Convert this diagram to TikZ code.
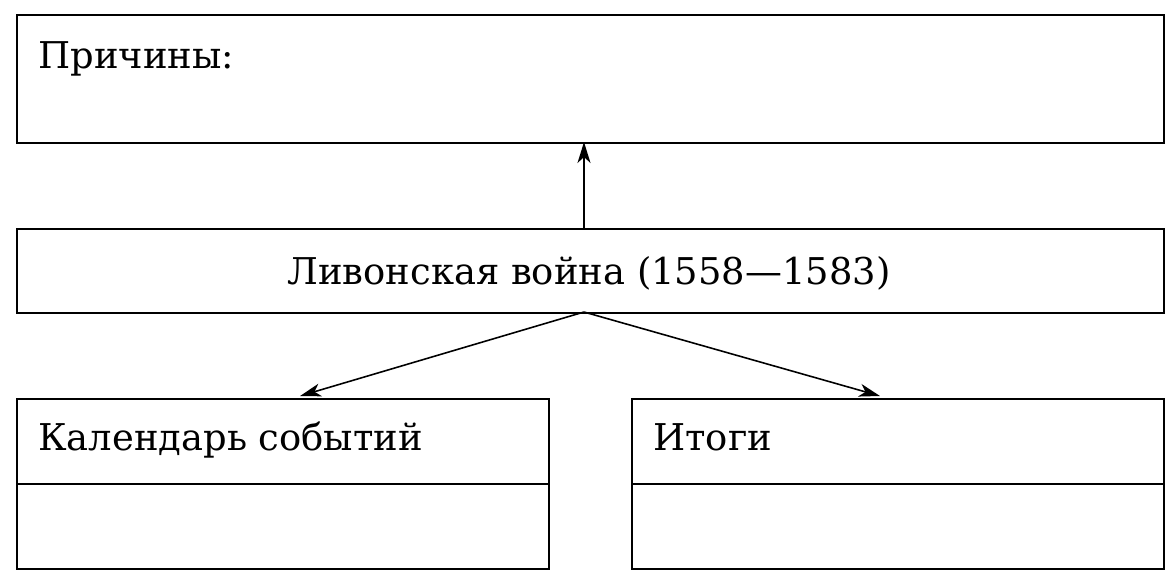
\documentclass[tikz,border=0pt]{standalone}
\usepackage{fontspec}
\setmainfont{DejaVu Serif}
\usetikzlibrary{positioning, arrows.meta}
\tikzset{box/.style={draw, line width=1pt, inner sep=0pt, anchor=north west},
	lbl/.style={anchor=base west, inner sep=0pt, font=\fontsize{21}{24}\selectfont},
	link/.style={line width=0.9pt, arrows={-Stealth[length=4.2mm, width=2.6mm, inset=1.2mm]}}}
\begin{document}
\begin{tikzpicture}[x=0.02cm, y=-0.02cm]
	\useasboundingbox (0,0) rectangle (1171,583);
	\node [box, minimum width=22.94cm, minimum height=2.56cm] (causes) at (16,14) {};
	\node [lbl] (causestxt) at (38,68) {Причины:};
	\node [box, minimum width=22.94cm, minimum height=1.68cm] (war) at (16,228) {};
	\node [lbl, anchor=base] (wartxt) at (589,284) {Ливонская война (1558—1583)};
	\node [box, minimum width=10.64cm, minimum height=3.4cm] (events) at (16,398) {};
	\node [lbl] (eventstxt) at (38,450) {Календарь событий};
	\node [box, minimum width=10.64cm, minimum height=3.4cm] (results) at (631,398) {};
	\node [lbl] (resultstxt) at (653,450) {Итоги};
	\draw [line width=1pt] (events.west |- 0,484) -- (events.east |- 0,484);
	\draw [line width=1pt] (results.west |- 0,484) -- (results.east |- 0,484);
	\coordinate (warbot) at (584,312);
	\coordinate (leftend) at (300,396);
	\coordinate (rightend) at (880,396);
	\draw [link] (584,228) -- (584,142);
	\draw [link] (warbot) -- (leftend);
	\draw [link] (warbot) -- (rightend);
\end{tikzpicture}
\end{document}
